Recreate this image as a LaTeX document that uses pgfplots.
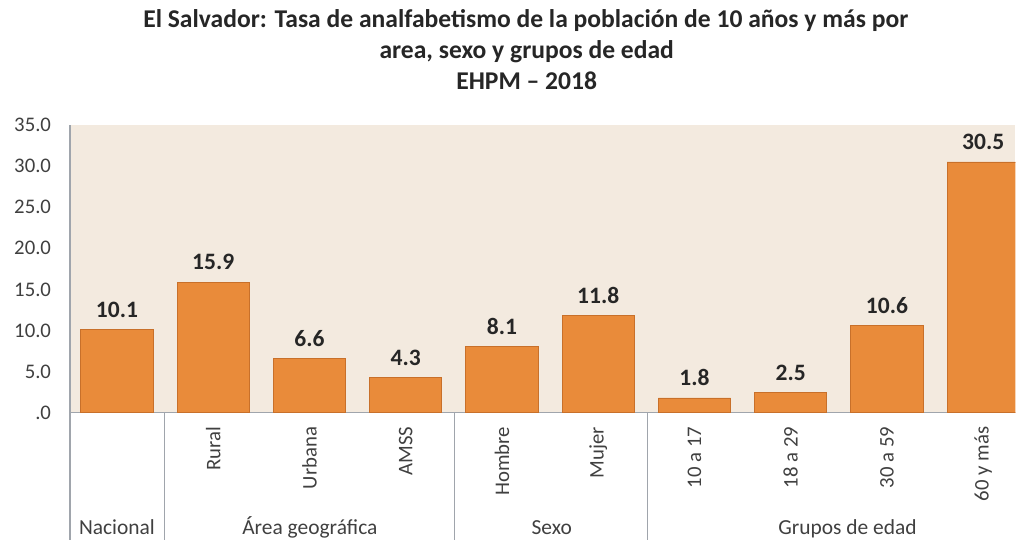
\documentclass[border=0pt]{standalone}
\usepackage{fontspec}
\setmainfont{Carlito}
\usepackage{pgfplots}
\pgfplotsset{compat=1.18}

\definecolor{barfill}{HTML}{E98B3A}
\definecolor{baredge}{HTML}{C8702A}
\definecolor{plotbg}{HTML}{F3EADF}
\definecolor{sepgray}{HTML}{A0A5AC}
\definecolor{txt}{HTML}{404040}
\definecolor{lbl}{HTML}{262626}

\begin{document}
\begin{tikzpicture}
% page = 1016 x 538 px, 1px = 0.7227pt
\begin{scope}[x=0.7227pt,y=-0.7227pt]
\path[use as bounding box] (0,0) rectangle (1016,538);
\end{scope}

\begin{axis}[
    at={(50.589pt,-298.475pt)}, anchor=south west,
    scale only axis,
    width=683.67pt, height=208.14pt,
    xmin=-0.488, xmax=9.335,
    ymin=0, ymax=35,
    axis lines*=left,
    axis line style={sepgray, line width=0.8pt},
    axis background/.style={fill=plotbg},
    ybar, bar width=0.75,
    ytick={0,5,...,35},
    yticklabels={.0,5.0,10.0,15.0,20.0,25.0,30.0,35.0},
    yticklabel style={font=\fontsize{15}{18}\selectfont, text=txt},
    yticklabel shift=11.5pt,
    xtick={1,...,9},
    xticklabels={Rural,Urbana,AMSS,Hombre,Mujer,10 a 17,18 a 29,30 a 59,60 y más},
    xticklabel style={rotate=90, anchor=east, font=\fontsize{15}{18}\selectfont, text=txt},
    xticklabel shift=8pt,
    major tick length=0pt,
    tick label style={inner sep=2pt},
    ytick style={draw=none}, xtick style={draw=none},
    point meta=explicit symbolic,
    nodes near coords,
    every node near coord/.append style={font=\bfseries\fontsize{17}{20}\selectfont, text=lbl, yshift=5pt},
]
\addplot[fill=barfill, draw=baredge, line width=0.6pt] coordinates {
    (0,10.1) [10.1]
    (1,15.9) [15.9]
    (2,6.6) [6.6]
    (3,4.3) [4.3]
    (4,8.1) [8.1]
    (5,11.8) [11.8]
    (6,1.8) [1.8]
    (7,2.5) [2.5]
    (8,10.6) [10.6]
    (9,30.5) [30.5]
};
\end{axis}

\begin{scope}[x=0.7227pt,y=-0.7227pt]
% group separators below the axis
\draw[sepgray, line width=0.8pt] (70,413) -- (70,540);
\draw[sepgray, line width=0.8pt] (165,413) -- (165,540);
\draw[sepgray, line width=0.8pt] (455,413) -- (455,540);
\draw[sepgray, line width=0.8pt] (648,413) -- (648,540);
% group names
\begin{scope}[every node/.style={anchor=base, inner sep=0pt, text=txt, font=\fontsize{15.5}{18}\selectfont}]
\node at (117,535) {Nacional};
\node at (310,535) {Área geográfica};
\node at (552,535) {Sexo};
\node at (848,535) {Grupos de edad};
\end{scope}
% title
\begin{scope}[every node/.style={anchor=base, inner sep=0pt, text=lbl, font=\bfseries\fontsize{18.5}{22}\selectfont}]
\node at (526,28) {El Salvador: Tasa de analfabetismo de la población de 10 años y más por};
\node at (527,59) {area, sexo y grupos de edad};
\node at (527,90) {EHPM – 2018};
\end{scope}
\end{scope}
\end{tikzpicture}
\end{document}
